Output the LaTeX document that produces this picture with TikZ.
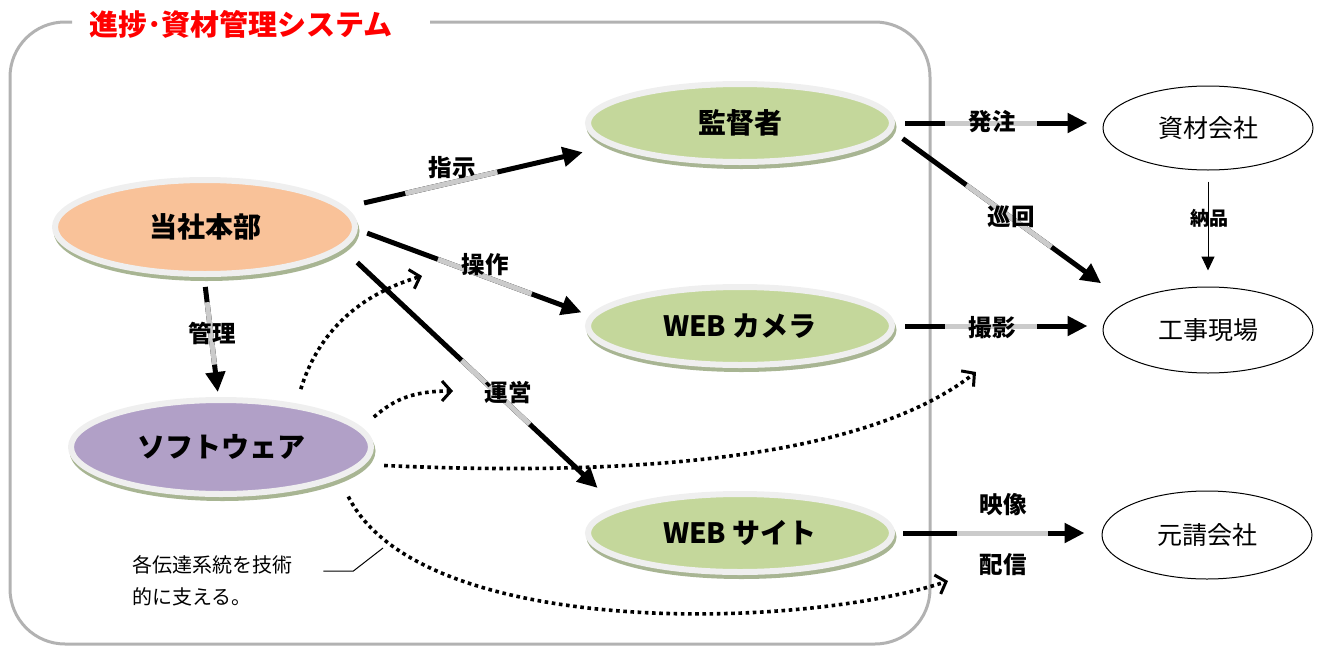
\documentclass[tikz,border=0pt]{standalone}
\usepackage{fontspec}
\setmainfont{Noto Sans CJK JP}
\usepackage{xcolor}
\usetikzlibrary{shapes.geometric, arrows.meta, calc}

\definecolor{hqorange}{HTML}{F9C299}
\definecolor{staffgreen}{HTML}{C4D79B}
\definecolor{softpurple}{HTML}{B1A0C7}
\definecolor{rimgray}{HTML}{EFEFEF}
\definecolor{shadowgreen}{HTML}{A8B593}
\definecolor{midgray}{HTML}{CBCBCB}
\definecolor{framegray}{HTML}{B2B2B2}

\tikzset{
  disc/.style={ellipse, draw=rimgray, line width=6pt, outer sep=3pt, inner sep=0pt,
    minimum width=300pt, minimum height=94pt,
    font=\bfseries\fontsize{28}{34}\selectfont,
    preaction={draw=shadowgreen, fill=shadowgreen, line width=6pt,
      transform canvas={shift={(1.5pt,-4pt)}}}},
  party/.style={ellipse, draw, line width=1pt, minimum width=210pt, minimum height=84pt,
    inner sep=0pt, font=\fontsize{25}{30}\selectfont},
  flow/.style={line width=5pt, -{Triangle[length=20pt,width=19pt]}},
  flowmid/.style={line width=5pt, midgray},
  lbl/.style={font=\bfseries\fontsize{23.5}{28}\selectfont, inner sep=1pt},
  dotflow/.style={line width=3.6pt, dash pattern=on 3.6pt off 3.6pt,
    -{Straight Barb[length=9pt,width=20pt,line width=3pt]}},
}

\begin{document}
\begin{tikzpicture}[x=1pt, y=-1pt]
\useasboundingbox (0,0) rectangle (1318,646);

% System frame
\draw[framegray, line width=3pt, rounded corners=55pt] (430,22) -- (930,22) -- (930,644) -- (10,644) -- (10,22) -- (72,22);
\node[font=\bfseries\fontsize{29}{34}\selectfont, text=red] (title) at (241,24) {進捗･資材管理システム};

% Inner parties
\node[disc, fill=hqorange] (hq) at (205,227) {当社本部};
\node[disc, fill=softpurple] (soft) at (221,447) {ソフトウェア};
\node[disc, fill=staffgreen, minimum width=304pt, minimum height=78pt] (boss) at (740,123) {監督者};
\node[disc, fill=staffgreen, minimum width=304pt, minimum height=78pt] (cam) at (740,326) {WEB カメラ};
\node[disc, fill=staffgreen, minimum width=304pt, minimum height=78pt] (site) at (740,533) {WEB サイト};

% Outer parties
\node[party] (supplier) at (1208,128) {資材会社};
\node[party, minimum height=86pt] (field) at (1208,330) {工事現場};
\node[party, minimum height=88pt] (prime) at (1207,535) {元請会社};

% Arrows from head office
\draw[flow, shorten <=19pt, shorten >=28pt] (hq.8) -- (boss.190);
\draw[flowmid] ($(hq.8)!0.226!(boss.190)$) -- ($(hq.8)!0.574!(boss.190)$);
\draw[flow, shorten <=10pt, shorten >=9pt] (hq.-1) -- (cam.176);
\draw[flowmid] ($(hq.-1)!0.345!(cam.176)$) -- ($(hq.-1)!0.749!(cam.176)$);
\draw[flow, shorten <=20pt, shorten >=28pt] (hq.-9) -- (site.168);
\draw[flowmid] ($(hq.-9)!0.432!(site.168)$) -- ($(hq.-9)!0.679!(site.168)$);
\draw[flow, shorten <=10pt, shorten >=5pt] (hq.-91) -- (soft.93);
\draw[flowmid] ($(hq.-91)!0.21!(soft.93)$) -- ($(hq.-91)!0.73!(soft.93)$);

% Arrows to the outside
\draw[flow, shorten <=10pt, shorten >=15pt] (boss.east) -- (boss.east -| supplier.west);
\draw[flowmid] ($(boss.east)!0.24!(boss.east -| supplier.west)$) -- ($(boss.east)!0.684!(boss.east -| supplier.west)$);
\draw[flow, shorten <=13pt, shorten >=32pt] (boss.-3) -- (field.161);
\draw[flowmid] ($(boss.-3)!0.316!(field.161)$) -- ($(boss.-3)!0.678!(field.161)$);
\draw[flow, shorten <=10pt, shorten >=15pt] (cam.east) -- (cam.east -| field.west);
\draw[flowmid] ($(cam.east)!0.24!(cam.east -| field.west)$) -- ($(cam.east)!0.684!(cam.east -| field.west)$);
\draw[flow, shorten <=8pt, shorten >=17pt] (site.east) -- (site.east -| prime.west);
\draw[flowmid] ($(site.east)!0.30!(site.east -| prime.west)$) -- ($(site.east)!0.74!(site.east -| prime.west)$);
\draw[line width=1pt, -{Triangle[length=14pt,width=13pt]}, shorten <=11pt, shorten >=16pt] (supplier.south) -- (field.north);

% Software support (dotted)
\coordinate (d1) at (422,276);
\coordinate (d2) at (453,391);
\coordinate (d3) at (976,372);
\coordinate (d4) at (948,581);
\draw[dotflow, shorten <=15pt] (soft.30) .. controls +(20,-65) and +(-70,21) .. (d1);
\draw[dotflow, shorten <=16pt] (soft.8) .. controls +(30,-25) and +(-45,0) .. (d2);
\draw[dotflow, shorten <=20pt] (soft.-7) .. controls +(286,13) and +(-106,83) .. (d3);
\draw[dotflow, shorten <=20pt] (soft.-15) .. controls +(81,161) and +(-148,49) .. (d4);

% Labels
\node[lbl] (lblinstr) at (452,168) {指示};
\node[lbl] (lbloper) at (485,265) {操作};
\node[lbl] (lblrun) at (508,393) {運営};
\node[lbl] (lblmanage) at (212,333) {管理};
\node[lbl] (lblorder) at (992,122) {発注};
\node[lbl] (lblpatrol) at (1011,217) {巡回};
\node[lbl] (lblshoot) at (992,328) {撮影};
\node[lbl] (lblvideo) at (1003,505) {映像};
\node[lbl] (lblcast) at (1003,565) {配信};
\node[font=\bfseries\fontsize{19}{22}\selectfont, inner sep=1pt] (lbldeliver) at (1209,218) {納品};

% Note
\node[anchor=north west, inner sep=0pt, align=left, font=\fontsize{20}{32}\selectfont] (note) at (132,555) {各伝達系統を技術\\的に支える。};
\coordinate (notept) at (383,548);
\draw[line width=1pt] ([shift={(31,16)}]note.north east) -- ++(30,0) -- (notept);
\end{tikzpicture}
\end{document}
